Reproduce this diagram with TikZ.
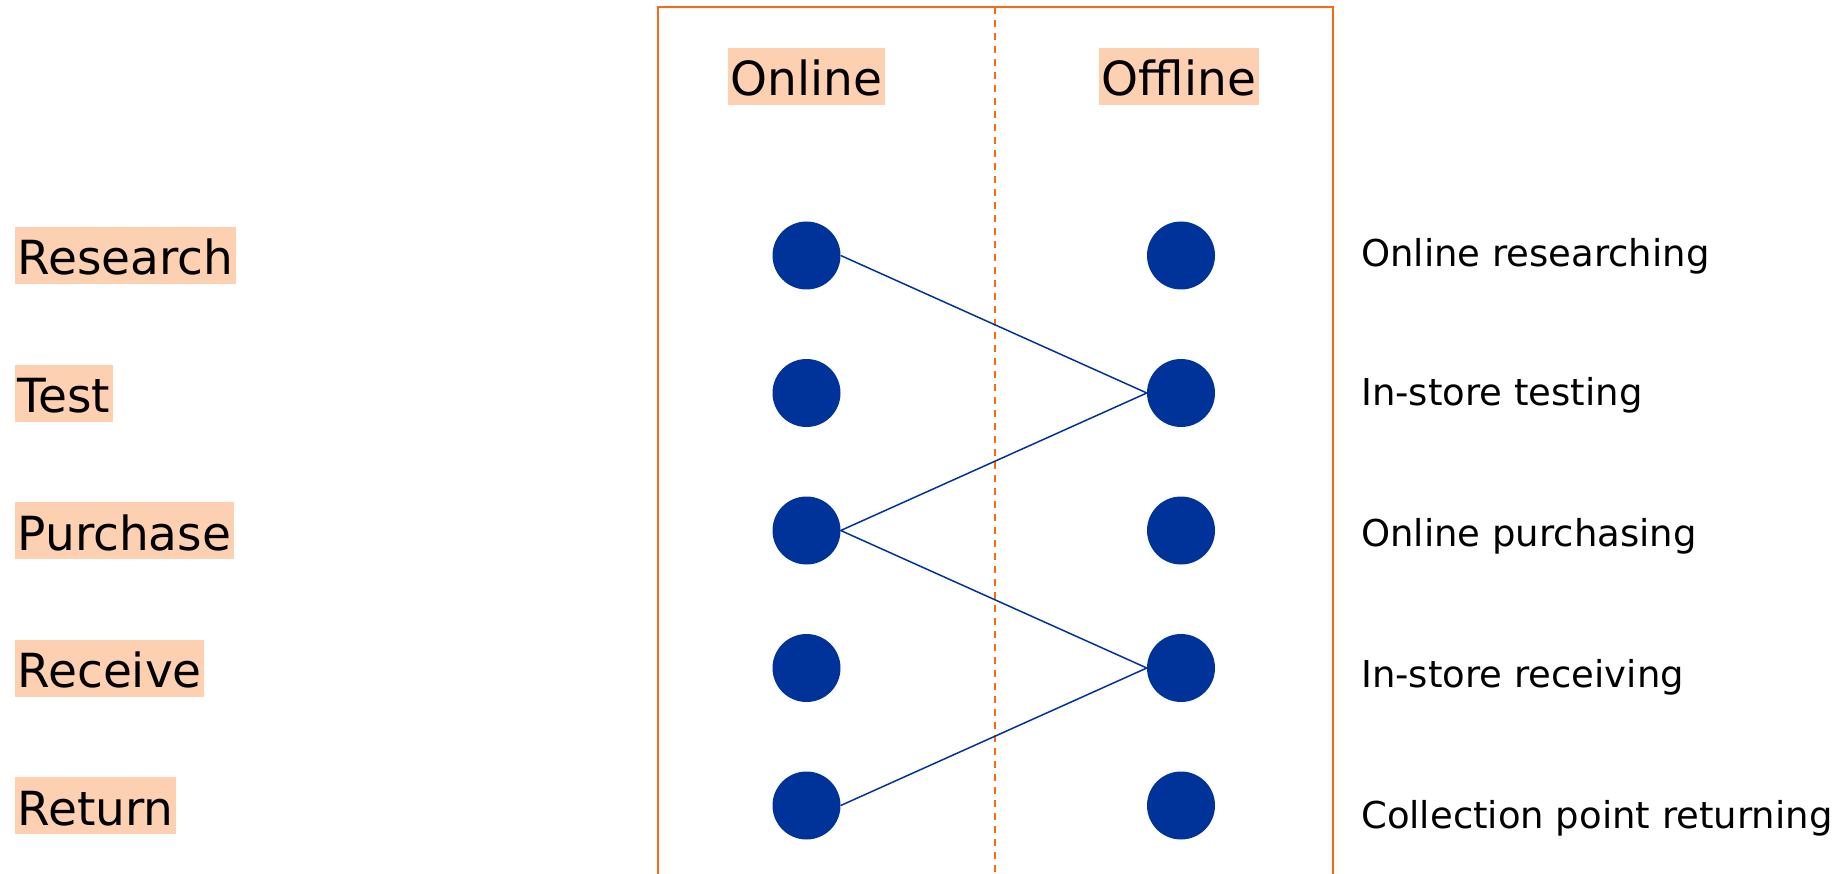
\documentclass[tikz,border=0pt]{standalone}
\usepackage{fontspec}
\setmainfont{DejaVu Sans}
\definecolor{peach}{HTML}{FDD0B1}
\definecolor{frameorange}{HTML}{FA6A10}
\definecolor{dotblue}{HTML}{003399}
\begin{document}
\begin{tikzpicture}[x=1pt,y=-1pt,
  tag/.style={fill=peach,inner xsep=2.5pt,inner ysep=0pt,text height=48pt,text depth=9pt,
    font=\fontsize{47}{56}\selectfont},
  stage/.style={inner sep=0pt,anchor=west,font=\fontsize{37}{44}\selectfont},
  dot/.style={circle,fill=dotblue,minimum size=68pt,inner sep=0pt},
  link/.style={dotblue,line width=1.5pt},
  frame/.style={frameorange,line width=2pt}]
\useasboundingbox (0,0) rectangle (1846,874);
% channel frame with the dashed divider
\coordinate (fTL) at (658,7);
\coordinate (fTR) at (1333,7);
\coordinate (fBL) at (658,880);
\coordinate (fBR) at (1333,880);
\coordinate (dTop) at (995,7);
\coordinate (dBot) at (995,874);
\draw[frame] (fBL) -- (fTL) -- (fTR) -- (fBR);
\draw[frameorange,line width=2pt,dash pattern=on 7pt off 6pt] (dTop) -- (dBot);
% column headers
\node[tag] (hOn) at (806.5,76.5) {Online};
\node[tag] (hOff) at (1179,76.5) {Offline};
% stage labels
\node[tag,anchor=west] (sRes) at (15,255.5) {Research};
\node[tag,anchor=west] (sTest) at (15,393) {Test};
\node[tag,anchor=west] (sPur) at (15,530.5) {Purchase};
\node[tag,anchor=west] (sRec) at (15,668) {Receive};
\node[tag,anchor=west] (sRet) at (15,805.5) {Return};
% dots: online column and offline column
\foreach \i/\y in {1/255.5,2/393,3/530.5,4/668,5/805.5}{
  \node[dot] (L\i) at (806.5,\y) {};
  \node[dot] (R\i) at (1181,\y) {};
}
% customer journey path
\draw[link] (L1.east) -- (R2.west) -- (L3.east) -- (R4.west) -- (L5.east);
% journey descriptions
\node[stage] (t1) at (1361,256) {Online researching};
\node[stage] (t2) at (1361,395) {In-store testing};
\node[stage] (t3) at (1361,536) {Online purchasing};
\node[stage] (t4) at (1361,677) {In-store receiving};
\node[stage] (t5) at (1361,818) {Collection point returning};
\end{tikzpicture}
\end{document}
